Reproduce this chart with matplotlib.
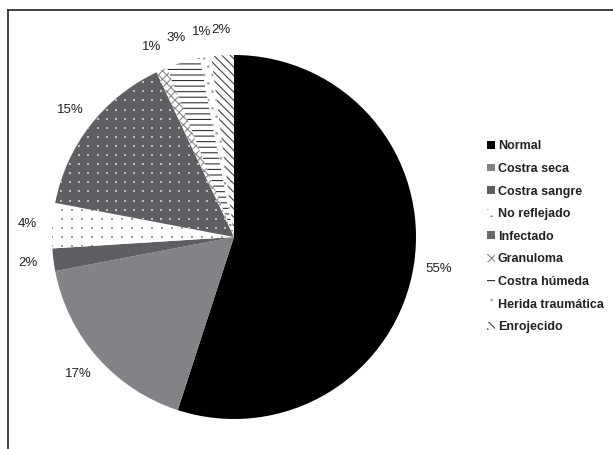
import matplotlib
matplotlib.use("Agg")
import numpy as np
import matplotlib.pyplot as plt
from matplotlib.patches import Patch
from matplotlib.lines import Line2D

# datos del gráfico
categorias = ["Normal", "Costra seca", "Costra sangre", "No reflejado", "Infectado",
              "Granuloma", "Costra húmeda", "Herida traumática", "Enrojecido"]
valores = [55, 17, 2, 4, 15, 1, 3, 1, 2]

# estilos de cada sector: (relleno, color del patrón, patrón)
estilos = [
    ("#000000", "#000000", None),
    ("#838287", "#838287", None),
    ("#5f5e63", "#5f5e63", None),
    ("#ffffff", "#ffffff", None),
    ("#5f5e63", "#5f5e63", None),
    ("#ffffff", "#8a8a8a", "xxxx"),
    ("#ffffff", "#333333", "---"),
    ("#ffffff", "#aaaaaa", ".."),
    ("#ffffff", "#444444", "\\\\\\\\"),
]
# textura de puntos: índice -> (color, paso x, paso y, tamaño)
puntos = {3: ("#9a9a9a", 0.055, 0.05, 1.5), 4: ("#c0c0c0", 0.05, 0.05, 2.2)}

# colores de la leyenda (algunos difieren del relleno)
leyenda_est = list(estilos)
leyenda_est[3] = ("#ffffff", "#9a9a9a", "..")
leyenda_est[4] = ("#6a6a6a", "#6a6a6a", None)

plt.rcParams["hatch.linewidth"] = 0.8

W, H = 613, 449
fig = plt.figure(figsize=(W / 100, H / 100), dpi=100)

# círculo: centro (234, 237) px, radio 182 px
cx, cy, r = 234, 237, 182
ax = fig.add_axes([(cx - r) / W, (H - cy - r) / H, 2 * r / W, 2 * r / H])

wedges, textos = ax.pie(
    valores, startangle=90, counterclock=False, radius=1,
    labels=[f"{v}%" for v in valores], labeldistance=1.14,
    wedgeprops=dict(linewidth=0),
    textprops=dict(fontsize=9.5, color="#222222", family="Liberation Sans"),
)
for w, (fc, hc, hatch) in zip(wedges, estilos):
    w.set_facecolor(fc)
    w.set_edgecolor(hc)
    w.set_linewidth(0)
    if hatch:
        w.set_hatch(hatch)
for t in textos:
    t.set_horizontalalignment("center")

for i, (col, px, py, tam) in puntos.items():
    X, Y = np.meshgrid(np.arange(-1, 1, px), np.arange(-1, 1, py))
    sc = ax.scatter(X.ravel(), Y.ravel(), s=tam, c=col, marker="s", linewidths=0, zorder=3)
    sc.set_clip_path(wedges[i])

ax.set_xlim(-1, 1)
ax.set_ylim(-1, 1)
ax.set_aspect("auto")
ax.axis("off")

# leyenda
handles = []
for (fc, hc, hatch) in leyenda_est:
    handles.append(Patch(facecolor=fc, edgecolor=hc, hatch=hatch, linewidth=0))
leg = fig.legend(handles, categorias, loc="upper left",
                 bbox_to_anchor=(476 / W, 1 - 129 / H), frameon=False,
                 handlelength=0.6, handleheight=0.6, handletextpad=0.25,
                 labelspacing=0.85,
                 prop=dict(family="Liberation Sans", weight="bold", size=9))
for t in leg.get_texts():
    t.set_color("#222222")

# marco (izquierda y arriba)
fig.add_artist(Line2D([8 / W, 8 / W], [0, 1 - 10 / H], transform=fig.transFigure,
                      color="#333333", linewidth=1.3))
fig.add_artist(Line2D([8 / W, 1], [1 - 10 / H, 1 - 10 / H], transform=fig.transFigure,
                      color="#333333", linewidth=1.3))

fig.savefig("out.png", dpi=100)
